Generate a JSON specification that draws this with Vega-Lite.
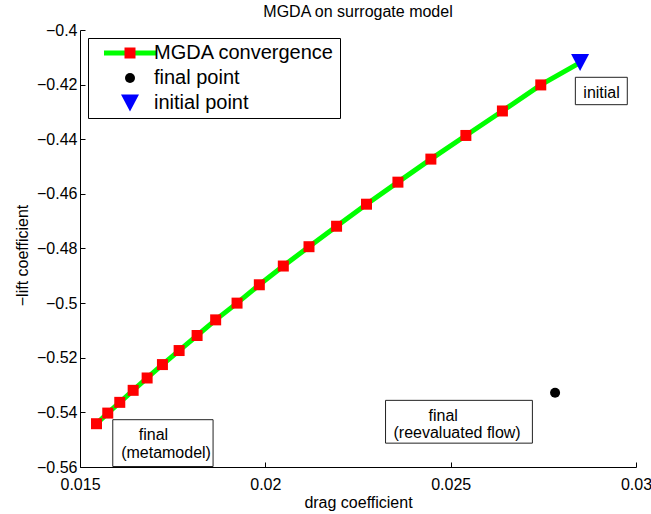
{
  "$schema": "https://vega.github.io/schema/vega-lite/v6.json",
  "width": 556,
  "height": 437,
  "autosize": {"type": "none"},
  "padding": {"left": 80, "top": 30, "right": 15, "bottom": 47},
  "background": "white",
  "title": {"text": "MGDA on surrogate model", "fontSize": 16, "font": "Liberation Sans", "fontWeight": "normal", "color": "black", "baseline": "alphabetic", "offset": -11},
  "datasets": {
    "pts": [
      {"drag": 0.015445, "lift": -0.54415, "series": "MGDA convergence"},
      {"drag": 0.015749, "lift": -0.54026, "series": "MGDA convergence"},
      {"drag": 0.016073, "lift": -0.53633, "series": "MGDA convergence"},
      {"drag": 0.016434, "lift": -0.53193, "series": "MGDA convergence"},
      {"drag": 0.016811, "lift": -0.52741, "series": "MGDA convergence"},
      {"drag": 0.017224, "lift": -0.5225, "series": "MGDA convergence"},
      {"drag": 0.017674, "lift": -0.51736, "series": "MGDA convergence"},
      {"drag": 0.018159, "lift": -0.51185, "series": "MGDA convergence"},
      {"drag": 0.01866, "lift": -0.50613, "series": "MGDA convergence"},
      {"drag": 0.019237, "lift": -0.5, "series": "MGDA convergence"},
      {"drag": 0.019838, "lift": -0.49328, "series": "MGDA convergence"},
      {"drag": 0.020485, "lift": -0.48642, "series": "MGDA convergence"},
      {"drag": 0.021178, "lift": -0.47934, "series": "MGDA convergence"},
      {"drag": 0.021922, "lift": -0.47185, "series": "MGDA convergence"},
      {"drag": 0.02273, "lift": -0.46378, "series": "MGDA convergence"},
      {"drag": 0.023577, "lift": -0.45571, "series": "MGDA convergence"},
      {"drag": 0.024466, "lift": -0.44727, "series": "MGDA convergence"},
      {"drag": 0.02541, "lift": -0.43861, "series": "MGDA convergence"},
      {"drag": 0.026396, "lift": -0.42965, "series": "MGDA convergence"},
      {"drag": 0.027431, "lift": -0.42011, "series": "MGDA convergence"},
      {"drag": 0.028491, "lift": -0.41193, "series": "initial point"},
      {"drag": 0.027817, "lift": -0.5328, "series": "final point"}
    ],
    "boxes": [
      {"drag": 0.028364, "drag2": 0.029765, "lift": -0.41732, "lift2": -0.42734},
      {"drag": 0.015884, "drag2": 0.01859, "lift": -0.54268, "lift2": -0.55982},
      {"drag": 0.023243, "drag2": 0.027205, "lift": -0.5356, "lift2": -0.55127}
    ],
    "notes": [
      {"drag": 0.028579, "lift": -0.42488, "text": "initial"},
      {"drag": 0.016585, "lift": -0.55002, "text": "final"},
      {"drag": 0.01611, "lift": -0.55662, "text": "(metamodel)"},
      {"drag": 0.024402, "lift": -0.54319, "text": "final"},
      {"drag": 0.023458, "lift": -0.54928, "text": "(reevaluated flow)"}
    ]
  },
  "config": {
    "view": {"stroke": null},
    "axis": {
      "domainColor": "black", "tickColor": "black", "labelColor": "black", "titleColor": "black",
      "labelFont": "Liberation Sans", "titleFont": "Liberation Sans",
      "labelFontSize": 16, "titleFontSize": 16, "titleFontWeight": "normal",
      "grid": false, "tickSize": -5, "domainWidth": 1, "tickWidth": 1,
      "labelFlush": false, "labelOverlap": false
    }
  },
  "encoding": {
    "x": {
      "field": "drag", "type": "quantitative",
      "scale": {"domain": [0.015, 0.03], "nice": false, "zero": false},
      "axis": {"values": [0.015, 0.02, 0.025, 0.03], "format": ".3~f", "title": "drag coefficient", "labelPadding": 14, "titleBaseline": "alphabetic", "titleY": 40.3}
    },
    "y": {
      "field": "lift", "type": "quantitative",
      "scale": {"domain": [-0.56, -0.4], "nice": false, "zero": false},
      "axis": {"values": [-0.56, -0.54, -0.52, -0.5, -0.48, -0.46, -0.44, -0.42, -0.4], "format": ".2~f", "title": "−lift coefficient", "labelPadding": 8, "titleAngle": 270, "titleBaseline": "alphabetic", "titleX": -52.5, "titleY": 225}
    }
  },
  "layer": [
    {
      "data": {"name": "pts"},
      "transform": [{"filter": "datum.series !== 'final point'"}],
      "mark": {"type": "line", "strokeWidth": 5},
      "encoding": {
        "stroke": {
          "datum": "MGDA convergence", "type": "nominal",
          "scale": {"range": ["#00ff00"]},
          "legend": {"orient": "none", "legendX": 8, "legendY": 8, "title": null, "padding": 5,
            "symbolType": "M-5.2,0H-0.9M0.9,0H5.2", "symbolSize": 100, "symbolStrokeWidth": 5,
            "symbolStrokeColor": "#00ff00", "symbolFillColor": "transparent", "symbolOffset": 27,
            "labelOpacity": 0, "labelFontSize": 20, "labelFont": "Liberation Sans", "labelOffset": 14,
            "labelLimit": 0, "rowPadding": 5}
        }
      }
    },
    {
      "data": {"name": "pts"},
      "mark": {"type": "point", "filled": true, "size": 100, "opacity": 1, "strokeWidth": 0},
      "encoding": {
        "fill": {
          "field": "series", "type": "nominal",
          "scale": {"domain": ["MGDA convergence", "final point", "initial point"], "range": ["#ff0000", "#000000", "#0000ff"]},
          "legend": {"orient": "none", "legendX": 8, "legendY": 8, "title": null, "padding": 5,
            "symbolSize": 100, "symbolStrokeWidth": 0, "symbolOffset": 27, "symbolOpacity": 1,
            "labelFontSize": 20, "labelFont": "Liberation Sans", "labelColor": "black", "labelOffset": 14,
            "labelLimit": 0, "rowPadding": 5, "strokeColor": "black"}
        },
        "shape": {
          "field": "series", "type": "nominal",
          "scale": {"domain": ["MGDA convergence", "final point", "initial point"], "range": ["M-1.1,-1.1H1.1V1.1H-1.1Z", "circle", "M0,1.7L-1.8,-1.7L1.8,-1.7Z"]},
          "legend": {"orient": "none", "legendX": 8, "legendY": 8, "title": null, "padding": 5,
            "symbolSize": 100, "symbolStrokeWidth": 0, "symbolOffset": 27, "symbolOpacity": 1,
            "labelFontSize": 20, "labelFont": "Liberation Sans", "labelColor": "black", "labelOffset": 14,
            "labelLimit": 0, "rowPadding": 5, "strokeColor": "black"}
        }
      }
    },
    {
      "data": {"name": "boxes"},
      "mark": {"type": "rect", "fill": "white", "stroke": "#222222", "strokeWidth": 1},
      "encoding": {"x2": {"field": "drag2"}, "y2": {"field": "lift2"}}
    },
    {
      "data": {"name": "notes"},
      "mark": {"type": "text", "align": "left", "baseline": "alphabetic", "font": "Liberation Sans", "fontSize": 16, "color": "black"},
      "encoding": {"text": {"field": "text"}}
    }
  ]
}
